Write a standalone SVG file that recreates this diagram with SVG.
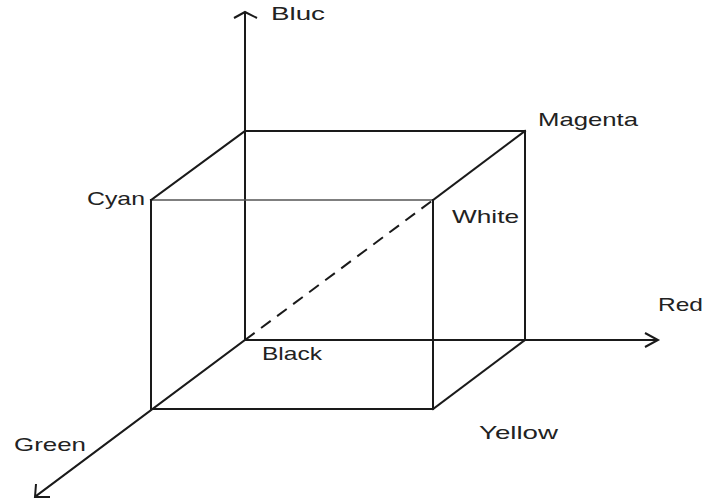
<svg xmlns="http://www.w3.org/2000/svg" width="704" height="500" viewBox="0 0 704 500">
<style>
.ln{stroke:#1a1a1a;stroke-width:2;fill:none;stroke-linecap:square}
.thin{stroke:#555;stroke-width:1.5;fill:none}
.dash{stroke:#1a1a1a;stroke-width:2;fill:none;stroke-dasharray:12 8}
.ah{stroke:#1a1a1a;stroke-width:2;fill:none;stroke-linejoin:miter}
text{font-family:"Liberation Sans",Arial,sans-serif;font-size:19px;fill:#222}
</style>
<rect width="704" height="500" fill="#fff"/>
<g id="connectors">
  <!-- axes -->
  <line id="axis-blue" class="ln" x1="245" y1="340" x2="245" y2="13"/>
  <polyline class="ah" points="234,18 245,12 257,18"/>
  <line id="axis-red" class="ln" x1="245" y1="340" x2="657" y2="340"/>
  <polyline class="ah" points="645,333 658,340 645,347"/>
  <line id="axis-green" class="ln" x1="245" y1="340" x2="36" y2="496"/>
  <polyline class="ah" points="36,484 35,497 50,497"/>
  <!-- back face -->
  <line class="ln" x1="245" y1="131" x2="525" y2="131"/>
  <line class="ln" x1="525" y1="131" x2="525" y2="340"/>
  <!-- front face -->
  <line class="thin" x1="151" y1="200" x2="433" y2="200"/>
  <line class="ln" x1="151" y1="200" x2="151" y2="409"/>
  <line class="ln" x1="151" y1="409" x2="433" y2="409"/>
  <line class="ln" x1="433" y1="200" x2="433" y2="409"/>
  <!-- depth edges -->
  <line class="ln" x1="151" y1="200" x2="245" y2="131"/>
  <line class="ln" x1="433" y1="200" x2="525" y2="131"/>
  <line class="ln" x1="433" y1="409" x2="525" y2="340"/>
  <!-- diagonal -->
  <line class="dash" x1="245" y1="340" x2="433" y2="200"/>
</g>
<g id="black"><text x="262" y="360" textLength="60" lengthAdjust="spacingAndGlyphs">Black</text></g>
<g id="blue"><text x="271" y="20" textLength="54" lengthAdjust="spacingAndGlyphs">Bluc</text></g>
<g id="magenta"><text x="538" y="126" textLength="100" lengthAdjust="spacingAndGlyphs">Magenta</text></g>
<g id="cyan"><text x="87" y="205" textLength="58" lengthAdjust="spacingAndGlyphs">Cyan</text></g>
<g id="white"><text x="452" y="223" textLength="67" lengthAdjust="spacingAndGlyphs">White</text></g>
<g id="red"><text x="658" y="311" textLength="45" lengthAdjust="spacingAndGlyphs">Red</text></g>
<g id="green"><text x="14" y="451" textLength="72" lengthAdjust="spacingAndGlyphs">Green</text></g>
<g id="yellow"><text x="479" y="439" textLength="79" lengthAdjust="spacingAndGlyphs">Yellow</text></g>
</svg>
